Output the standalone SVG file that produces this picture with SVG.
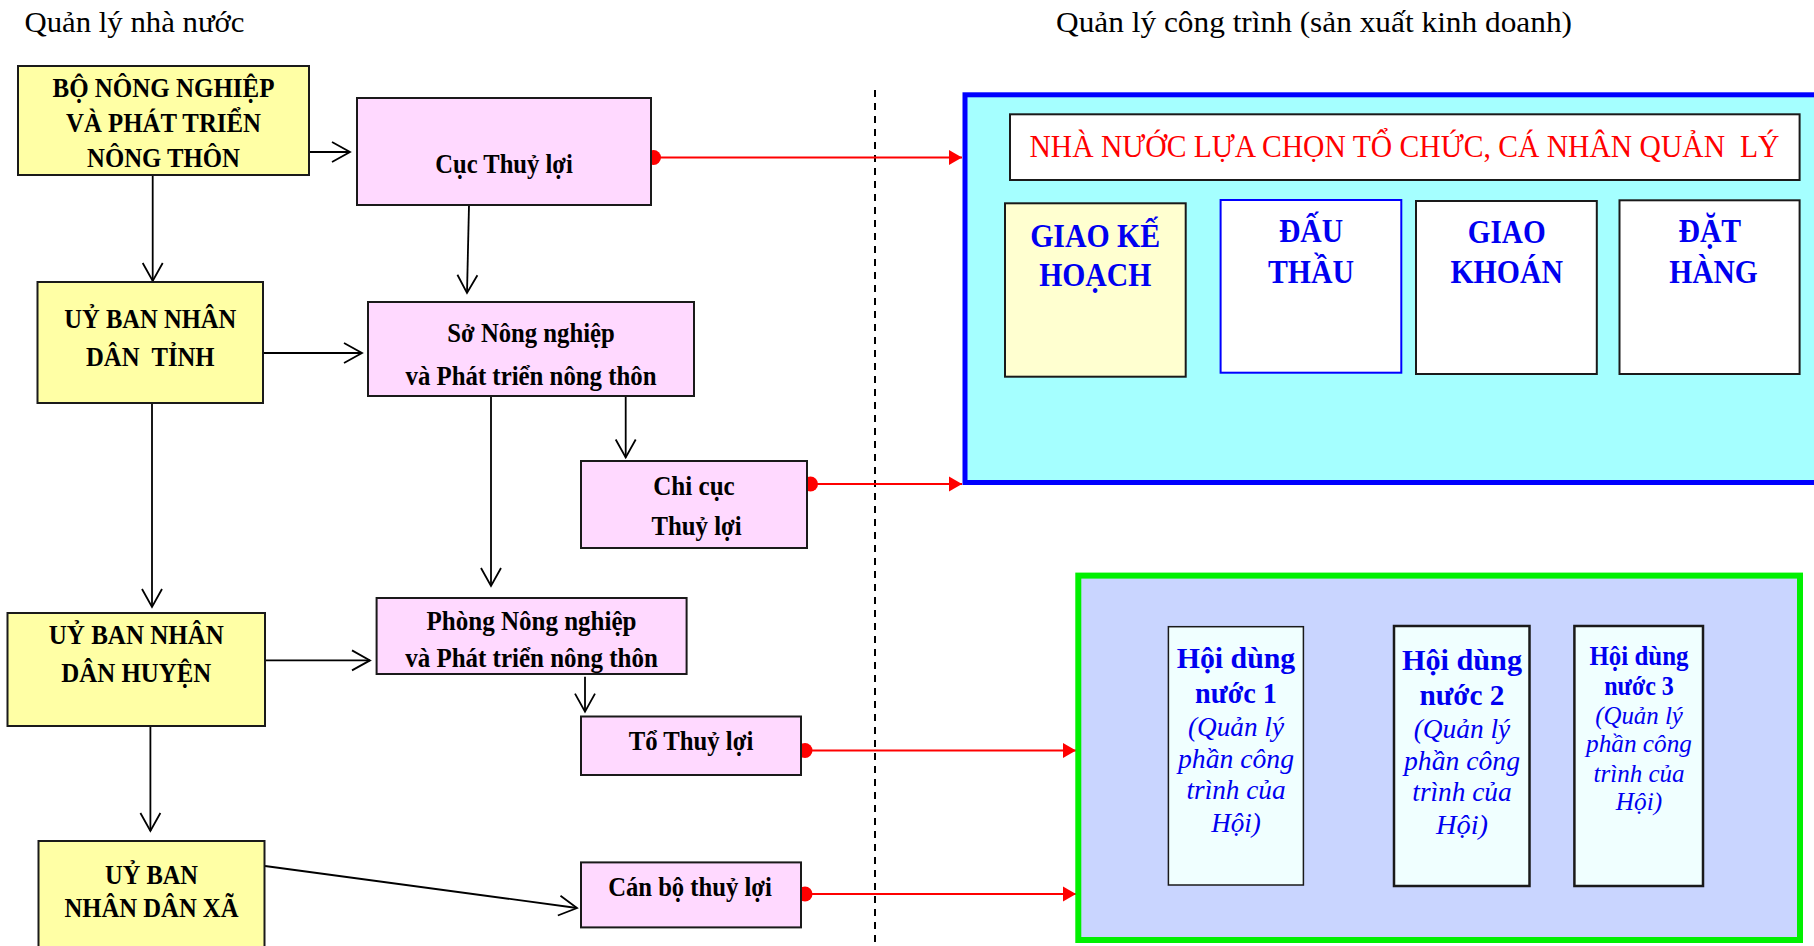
<svg xmlns="http://www.w3.org/2000/svg" width="1814" height="946" viewBox="0 0 1814 946">
<style>
text{font-family:"Liberation Serif","Times New Roman",serif;}
.t{font-size:27px;font-weight:bold;fill:#000;text-anchor:middle;}
.h{font-size:29px;fill:#000;}
.b{font-size:33px;font-weight:bold;fill:#0000F0;text-anchor:middle;}
.hb{font-size:30px;font-weight:bold;fill:#0000F0;text-anchor:middle;}
.hi{font-size:27px;font-style:italic;fill:#0000F0;text-anchor:middle;}
.hb3{font-size:27px;font-weight:bold;fill:#0000F0;text-anchor:middle;}
.hi3{font-size:25px;font-style:italic;fill:#0000F0;text-anchor:middle;}
.y{fill:#FFFFA5;stroke:#1a1a1a;stroke-width:2;}
.p{fill:#FFD9FF;stroke:#1a1a1a;stroke-width:2;}
.w{fill:#FFFFFF;stroke:#1a1a1a;stroke-width:2;}
.hoi{fill:#F0FFFF;stroke:#1a1a1a;}
.k{stroke:#000;stroke-width:1.8;fill:none;marker-end:url(#open);}
.r{stroke:#FF0000;stroke-width:2;fill:none;marker-start:url(#dot);marker-end:url(#tri);}
</style>
<defs>
<marker id="open" markerUnits="userSpaceOnUse" viewBox="-20 -12 22 24" markerWidth="22" markerHeight="24" refX="0" refY="0" orient="auto">
<path d="M-18,-10 L0,0 L-18,10" fill="none" stroke="#000" stroke-width="1.8"/>
</marker>
<marker id="tri" markerUnits="userSpaceOnUse" viewBox="-14 -9 15 18" markerWidth="15" markerHeight="18" refX="0" refY="0" orient="auto">
<path d="M-13,-7.5 L0,0 L-13,7.5 Z" fill="#FF0000"/>
</marker>
<marker id="dot" markerUnits="userSpaceOnUse" viewBox="-8 -8 16 16" markerWidth="16" markerHeight="16" refX="0" refY="0" orient="auto">
<circle cx="0" cy="0" r="7.5" fill="#FF0000"/>
</marker>
</defs>
<rect x="0" y="0" width="1814" height="946" fill="#FFFFFF"/>

<g id="titles">
<text class="h" x="24.5" y="32" textLength="220" lengthAdjust="spacingAndGlyphs">Quản lý nhà nước</text>
<text class="h" x="1056" y="32" textLength="516" lengthAdjust="spacingAndGlyphs">Quản lý công trình (sản xuất kinh doanh)</text>
</g>

<line id="divider" x1="875" y1="90" x2="875" y2="946" stroke="#000" stroke-width="2" stroke-dasharray="7,6"/>

<g id="connectors">
<path class="k" d="M309,152 H350"/>
<path class="k" d="M152.7,175 V281"/>
<path class="k" d="M469,205 L467,293"/>
<path class="k" d="M263,353 H362"/>
<path class="k" d="M491,396 V586"/>
<path class="k" d="M625.7,396 V457.5"/>
<path class="k" d="M152,403 V607"/>
<path class="k" d="M265,660.4 H370"/>
<path class="k" d="M585,676.8 V711.6"/>
<path class="k" d="M150.4,726 V831"/>
<path class="k" d="M265,866 L577,908"/>
<path class="r" d="M653.5,157.5 H962"/>
<path class="r" d="M810.5,484 H962"/>
<path class="r" d="M805,750.5 H1076"/>
<path class="r" d="M805,894 H1076"/>
</g>

<g id="bo-nong-nghiep">
<rect class="y" x="18" y="66" width="291" height="109"/>
<text class="t" x="163.5" y="97" textLength="222" lengthAdjust="spacingAndGlyphs">BỘ NÔNG NGHIỆP</text>
<text class="t" x="163.5" y="132" textLength="195" lengthAdjust="spacingAndGlyphs">VÀ PHÁT TRIỂN</text>
<text class="t" x="163.5" y="167" textLength="153" lengthAdjust="spacingAndGlyphs">NÔNG THÔN</text>
</g>

<g id="cuc-thuy-loi">
<rect class="p" x="357" y="98" width="294" height="107"/>
<text class="t" x="504" y="173" textLength="137.5" lengthAdjust="spacingAndGlyphs">Cục Thuỷ lợi</text>
</g>

<g id="ubnd-tinh">
<rect class="y" x="37.5" y="282" width="225.5" height="121"/>
<text class="t" x="150.3" y="328" textLength="172" lengthAdjust="spacingAndGlyphs">UỶ BAN NHÂN</text>
<text class="t" x="150.3" y="366" textLength="128.6" lengthAdjust="spacingAndGlyphs" xml:space="preserve">DÂN  TỈNH</text>
</g>

<g id="so-nong-nghiep">
<rect class="p" x="368" y="302" width="326" height="94"/>
<text class="t" x="531" y="341.7" textLength="167.4" lengthAdjust="spacingAndGlyphs">Sở Nông nghiệp</text>
<text class="t" x="531" y="385" textLength="251" lengthAdjust="spacingAndGlyphs">và Phát triển nông thôn</text>
</g>

<g id="chi-cuc-thuy-loi">
<rect class="p" x="581" y="461" width="226" height="87"/>
<text class="t" x="694" y="494.7" textLength="81.5" lengthAdjust="spacingAndGlyphs">Chi cục</text>
<text class="t" x="696.6" y="535" textLength="90" lengthAdjust="spacingAndGlyphs">Thuỷ lợi</text>
</g>

<g id="ubnd-huyen">
<rect class="y" x="7.5" y="613" width="257.5" height="113"/>
<text class="t" x="136.3" y="643.7" textLength="175" lengthAdjust="spacingAndGlyphs">UỶ BAN NHÂN</text>
<text class="t" x="136.3" y="682" textLength="150" lengthAdjust="spacingAndGlyphs">DÂN HUYỆN</text>
</g>

<g id="phong-nong-nghiep">
<rect class="p" x="376.6" y="598" width="310" height="76"/>
<text class="t" x="531.5" y="629.8" textLength="210" lengthAdjust="spacingAndGlyphs">Phòng Nông nghiệp</text>
<text class="t" x="531.5" y="667.4" textLength="252.6" lengthAdjust="spacingAndGlyphs">và Phát triển nông thôn</text>
</g>

<g id="to-thuy-loi">
<rect class="p" x="581" y="716.5" width="220" height="58.5"/>
<text class="t" x="691" y="750" textLength="124.6" lengthAdjust="spacingAndGlyphs">Tổ Thuỷ lợi</text>
</g>

<g id="ubnd-xa">
<rect class="y" x="38.5" y="841" width="226" height="120"/>
<text class="t" x="151.5" y="884" textLength="93" lengthAdjust="spacingAndGlyphs">UỶ BAN</text>
<text class="t" x="151.5" y="917" textLength="174" lengthAdjust="spacingAndGlyphs">NHÂN DÂN XÃ</text>
</g>

<g id="can-bo-thuy-loi">
<rect class="p" x="581" y="862.4" width="220" height="65"/>
<text class="t" x="690" y="896" textLength="163.6" lengthAdjust="spacingAndGlyphs">Cán bộ thuỷ lợi</text>
</g>

<g id="quan-ly-cong-trinh">
<rect x="965" y="94.8" width="900" height="387.7" fill="#A5FFFF" stroke="#0000FF" stroke-width="5"/>
<g id="nha-nuoc-lua-chon">
<rect class="w" x="1010" y="114.3" width="789.6" height="65.7"/>
<text x="1404.4" y="157" font-size="31" fill="#FF0000" text-anchor="middle" textLength="750" lengthAdjust="spacingAndGlyphs" xml:space="preserve">NHÀ NƯỚC LỰA CHỌN TỔ CHỨC, CÁ NHÂN QUẢN  LÝ</text>
</g>
<g id="giao-ke-hoach">
<rect x="1005" y="203.3" width="180.7" height="173.4" fill="#FFFFD0" stroke="#1a1a1a" stroke-width="2"/>
<text class="b" x="1095.2" y="246.7" textLength="130" lengthAdjust="spacingAndGlyphs">GIAO KẾ</text>
<text class="b" x="1095.2" y="285.5" textLength="112" lengthAdjust="spacingAndGlyphs">HOẠCH</text>
</g>
<g id="dau-thau">
<rect x="1220.6" y="200" width="180.7" height="172.7" fill="#FFFFFF" stroke="#0000FF" stroke-width="2"/>
<text class="b" x="1311" y="242" textLength="64" lengthAdjust="spacingAndGlyphs">ĐẤU</text>
<text class="b" x="1311" y="282.7" textLength="86" lengthAdjust="spacingAndGlyphs">THẦU</text>
</g>
<g id="giao-khoan">
<rect class="w" x="1416" y="201" width="180.8" height="173"/>
<text class="b" x="1506.7" y="243.3" textLength="78" lengthAdjust="spacingAndGlyphs">GIAO</text>
<text class="b" x="1506.7" y="283.3" textLength="112.5" lengthAdjust="spacingAndGlyphs">KHOÁN</text>
</g>
<g id="dat-hang">
<rect class="w" x="1619.5" y="200.3" width="180.1" height="173.7"/>
<text class="b" x="1709.8" y="242.3" textLength="62.7" lengthAdjust="spacingAndGlyphs">ĐẶT</text>
<text class="b" x="1713.5" y="282.7" textLength="88.5" lengthAdjust="spacingAndGlyphs">HÀNG</text>
</g>
</g>

<g id="hoi-dung-nuoc">
<rect x="1078.3" y="575.6" width="721.7" height="364.4" fill="#C9D5FF" stroke="#00F000" stroke-width="6"/>
<g id="hoi-dung-nuoc-1">
<rect class="hoi" x="1168.4" y="626.7" width="135" height="258.3" stroke-width="1.5"/>
<text class="hb" x="1236" y="668.3" textLength="118.4" lengthAdjust="spacingAndGlyphs">Hội dùng</text>
<text class="hb" x="1236" y="703.3" textLength="81.9" lengthAdjust="spacingAndGlyphs">nước 1</text>
<text class="hi" x="1236" y="735.5" textLength="96" lengthAdjust="spacingAndGlyphs">(Quản lý</text>
<text class="hi" x="1236" y="768" textLength="116" lengthAdjust="spacingAndGlyphs">phần công</text>
<text class="hi" x="1236" y="799" textLength="99" lengthAdjust="spacingAndGlyphs">trình của</text>
<text class="hi" x="1236" y="832" textLength="49.7" lengthAdjust="spacingAndGlyphs">Hội)</text>
</g>
<g id="hoi-dung-nuoc-2">
<rect class="hoi" x="1394" y="626" width="135.5" height="260" stroke-width="2.5"/>
<text class="hb" x="1462" y="670" textLength="120" lengthAdjust="spacingAndGlyphs">Hội dùng</text>
<text class="hb" x="1462" y="705" textLength="85" lengthAdjust="spacingAndGlyphs">nước 2</text>
<text class="hi" x="1462" y="738" textLength="96.5" lengthAdjust="spacingAndGlyphs">(Quản lý</text>
<text class="hi" x="1462" y="769.5" textLength="116" lengthAdjust="spacingAndGlyphs">phần công</text>
<text class="hi" x="1462" y="800.5" textLength="99.4" lengthAdjust="spacingAndGlyphs">trình của</text>
<text class="hi" x="1462" y="834" textLength="52" lengthAdjust="spacingAndGlyphs">Hội)</text>
</g>
<g id="hoi-dung-nuoc-3">
<rect class="hoi" x="1574.4" y="626" width="128.6" height="260" stroke-width="2.5"/>
<text class="hb3" x="1639" y="665" textLength="99" lengthAdjust="spacingAndGlyphs">Hội dùng</text>
<text class="hb3" x="1639" y="695" textLength="69.7" lengthAdjust="spacingAndGlyphs">nước 3</text>
<text class="hi3" x="1639" y="724" textLength="87.7" lengthAdjust="spacingAndGlyphs">(Quản lý</text>
<text class="hi3" x="1639" y="752" textLength="105.8" lengthAdjust="spacingAndGlyphs">phần công</text>
<text class="hi3" x="1639" y="781.5" textLength="91" lengthAdjust="spacingAndGlyphs">trình của</text>
<text class="hi3" x="1639" y="810" textLength="46.3" lengthAdjust="spacingAndGlyphs">Hội)</text>
</g>
</g>
</svg>
